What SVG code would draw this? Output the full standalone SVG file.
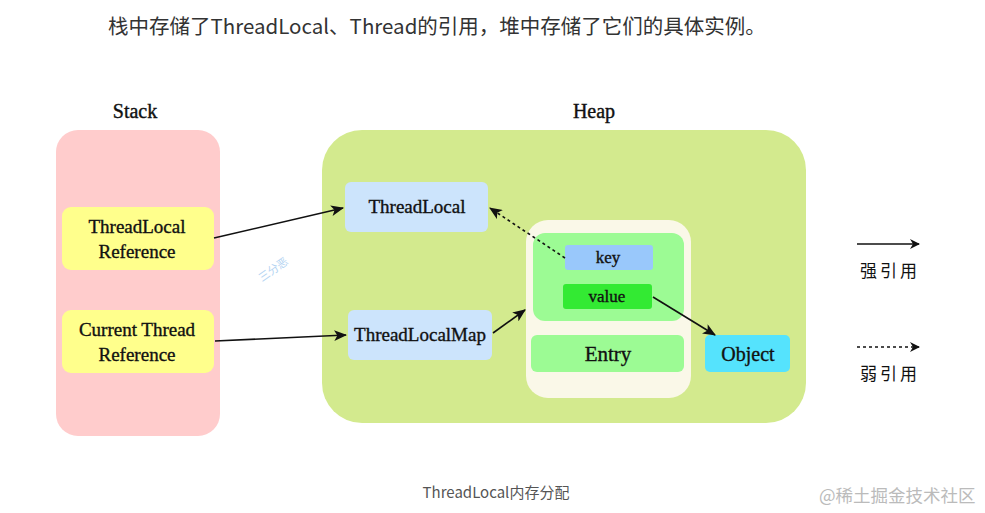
<svg xmlns="http://www.w3.org/2000/svg" width="985" height="513" viewBox="0 0 985 513">
<defs>
<marker id="arr" viewBox="0 0 10 10" refX="9" refY="5" markerWidth="10" markerHeight="10" markerUnits="userSpaceOnUse" orient="auto">
<path d="M0,0 L10,5 L0,10 L3,5 z" fill="#111"/>
</marker>
<marker id="arrL" viewBox="0 0 12 10" refX="11" refY="5" markerWidth="13" markerHeight="11" markerUnits="userSpaceOnUse" orient="auto">
<path d="M0,0 L12,5 L0,10 L3,5 z" fill="#111"/>
</marker>
</defs>
<style>
.node text{font-family:"Liberation Serif",serif;fill:#111;text-anchor:middle;stroke:#111;stroke-width:0.35}
.lbl{font-family:"Liberation Serif",serif;font-size:20px;fill:#111;text-anchor:middle;stroke:#111;stroke-width:0.4}
.cn{font-family:"Noto Sans CJK SC","Noto Sans",sans-serif}
.edge{stroke:#111;stroke-width:1.6;fill:none;marker-end:url(#arr)}
.weak{stroke-dasharray:3,3}
</style>
<rect width="985" height="513" fill="#fff"/>
<text x="108" y="34" class="cn" font-size="20.5" fill="#333">栈中存储了ThreadLocal、Thread的引用，堆中存储了它们的具体实例。</text>

<text x="135" y="118" class="lbl">Stack</text>
<text x="594" y="118" class="lbl">Heap</text>

<g id="stack"><rect x="56" y="130" width="164" height="306" rx="22" fill="#ffcccc"/></g>
<g id="heap"><rect x="322" y="130" width="484" height="293" rx="40" fill="#d3ea8e"/></g>

<g id="tlref" class="node"><rect x="62" y="207" width="152" height="63" rx="9" fill="#ffff8c"/>
<text x="137" y="233" font-size="19">ThreadLocal</text><text x="137" y="258" font-size="19">Reference</text></g>
<g id="ctref" class="node"><rect x="62" y="310" width="152" height="63" rx="9" fill="#ffff8c"/>
<text x="137" y="336" font-size="19">Current Thread</text><text x="137" y="361" font-size="19">Reference</text></g>

<g id="threadlocal" class="node"><rect x="345" y="182" width="143" height="50" rx="6" fill="#cce4fc"/>
<text x="417" y="213" font-size="19">ThreadLocal</text></g>
<g id="threadlocalmap" class="node"><rect x="348" y="310" width="144" height="50" rx="6" fill="#cce4fc"/>
<text x="420" y="341" font-size="19">ThreadLocalMap</text></g>

<g id="entrybox" class="node"><rect x="526" y="220" width="165" height="178" rx="22" fill="#faf8e8"/>
<rect x="533" y="233" width="151" height="88" rx="12" fill="#9cfb94"/></g>
<g id="key" class="node"><rect x="565" y="245" width="88" height="25" rx="3" fill="#99c8fb"/>
<text x="608" y="263" font-size="17">key</text></g>
<g id="value" class="node"><rect x="563" y="284" width="89" height="25" rx="3" fill="#33ea33"/>
<text x="607" y="302" font-size="17">value</text></g>
<g id="entry" class="node"><rect x="531" y="335" width="153" height="37" rx="6" fill="#9cfb94"/>
<text x="608" y="361" font-size="21">Entry</text></g>
<g id="object" class="node"><rect x="705" y="335" width="85" height="37" rx="5" fill="#55e3fd"/>
<text x="748" y="361" font-size="20">Object</text></g>

<g id="connectors">
<line x1="214" y1="238" x2="343" y2="208" class="edge" style="marker-end:url(#arrL)"/>
<line x1="215" y1="341" x2="346" y2="335" class="edge" style="marker-end:url(#arrL)"/>
<line x1="493" y1="333" x2="525" y2="310" class="edge" style="marker-end:url(#arrL)"/>
<line x1="565" y1="258" x2="490" y2="208" class="edge weak" style="marker-end:url(#arrL)"/>
<line x1="653" y1="297" x2="715" y2="335" class="edge" style="marker-end:url(#arrL)"/>
<line x1="857" y1="244" x2="919" y2="244" class="edge" style="marker-end:url(#arr)"/>
<line x1="857" y1="347" x2="919" y2="347" class="edge weak" style="marker-end:url(#arr)"/>
</g>

<text x="860" y="277" class="cn" font-size="17" fill="#111" letter-spacing="3">强引用</text>
<text x="860" y="380" class="cn" font-size="17" fill="#111" letter-spacing="3">弱引用</text>

<text x="262" y="282" class="cn" font-size="11" fill="#b4d4f2" transform="rotate(-35 262 282)">三分恶</text>

<text x="496" y="498" class="cn" font-size="15" fill="#555" text-anchor="middle">ThreadLocal内存分配</text>
<text x="819" y="502" class="cn" font-size="17.5" fill="#bbb">@稀土掘金技术社区</text>
</svg>
